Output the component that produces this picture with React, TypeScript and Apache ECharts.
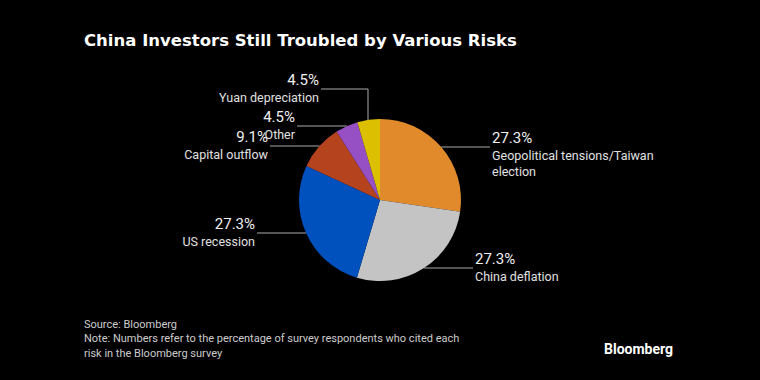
import React, { useEffect, useRef } from "react";
import * as echarts from "echarts";

const categories = [
  "Geopolitical tensions/Taiwan election",
  "China deflation",
  "US recession",
  "Capital outflow",
  "Other",
  "Yuan depreciation",
];
const values = [27.3, 27.3, 27.3, 9.1, 4.5, 4.5];
const colors = ["#E08A2C", "#C4C4C4", "#0050BE", "#B5441E", "#9650C4", "#DCC000"];

const titleText = "China Investors Still Troubled by Various Risks";
const footerLines = [
  "Source: Bloomberg",
  "Note: Numbers refer to the percentage of survey respondents who cited each",
  "risk in the Bloomberg survey",
];

// label layout (leader-line y level, end x, side, optional elbow x)
const CX = 380;
const CY = 200;
const R = 81;
const anchors = [
  { side: "right", y: 147, endX: 490 },
  { side: "right", y: 268, endX: 473 },
  { side: "left", y: 233, endX: 257 },
  { side: "left", y: 146, endX: 270 },
  { side: "left", y: 126, endX: 297 },
  { side: "left", y: 89, endX: 321, elbowX: 368 },
];

const FONT = "Roboto, 'Liberation Sans', sans-serif";
const TITLE_FONT = "'DejaVu Sans', sans-serif";

function wrap(text: string, max: number): string {
  const words = text.split(" ");
  const lines: string[] = [];
  let cur = "";
  for (const w of words) {
    if (cur && (cur + " " + w).length > max) {
      lines.push(cur);
      cur = w;
    } else {
      cur = cur ? cur + " " + w : w;
    }
  }
  if (cur) lines.push(cur);
  return lines.join("\n");
}

export default function App() {
  const ref = useRef<HTMLDivElement>(null);
  useEffect(() => {
    document.body.style.margin = "0";
    document.body.style.background = "#000";
    const chart = echarts.init(ref.current!, null, { renderer: "svg" });
    const data = categories.map((name, i) => ({
      name,
      value: values[i],
      itemStyle: { color: colors[i] },
    }));
    chart.setOption({
      animation: false,
      backgroundColor: "#000",
      title: {
        text: titleText,
        left: 84,
        top: 32,
        padding: 0,
        textStyle: { color: "#fff", fontSize: 16.5, fontWeight: "bold", fontFamily: TITLE_FONT },
      },
      graphic: [
        ...footerLines.map((t, i) => ({
          type: "text",
          x: 84,
          y: 324 + i * 14.5,
          style: { text: t, fill: "#cccccc", font: `11px ${FONT}`, verticalAlign: "middle" },
        })),
        {
          type: "text",
          x: 604,
          y: 349,
          style: { text: "Bloomberg", fill: "#fff", font: `bold 14px ${FONT}`, verticalAlign: "middle" },
        },
      ],
      series: [
        {
          type: "pie",
          center: [CX, CY],
          radius: R,
          startAngle: 90,
          clockwise: true,
          avoidLabelOverlap: false,
          data,
          label: {
            show: true,
            position: "outside",
            color: "#e8e8e8",
            fontFamily: FONT,
            formatter: (p: any) => {
              const nameLines = wrap(p.name, 28)
                .split("\n")
                .map((l) => `{n|${l}}`)
                .join("\n");
              return `{v|${p.value.toFixed(1)}%}\n${nameLines}`;
            },
            rich: {
              v: { fontSize: 15, lineHeight: 18, color: "#f0f0f0", fontFamily: FONT },
              n: { fontSize: 12.5, lineHeight: 16, color: "#e0e0e0", fontFamily: FONT },
            },
          },
          labelLine: { show: true, lineStyle: { color: "#aaaaaa", width: 1 } },
          labelLayout: (params: any) => {
            const a = anchors[params.dataIndex];
            let pts: number[][];
            if (a.elbowX !== undefined) {
              const sy = CY - Math.sqrt(R * R - (a.elbowX - CX) * (a.elbowX - CX));
              pts = [[a.elbowX, sy], [a.elbowX, a.y], [a.endX, a.y]];
            } else {
              const dx = Math.sqrt(Math.max(0, R * R - (a.y - CY) * (a.y - CY)));
              const sx = a.side === "right" ? CX + dx : CX - dx;
              pts = [[sx, a.y], [sx, a.y], [a.endX, a.y]];
            }
            return {
              x: a.side === "right" ? a.endX + 2 : a.endX - 2,
              y: a.y - 18,
              align: a.side === "right" ? "left" : "right",
              verticalAlign: "top",
              labelLinePoints: pts,
            };
          },
        },
      ],
    });
    return () => chart.dispose();
  }, []);
  return <div ref={ref} style={{ width: 760, height: 380 }} />;
}
